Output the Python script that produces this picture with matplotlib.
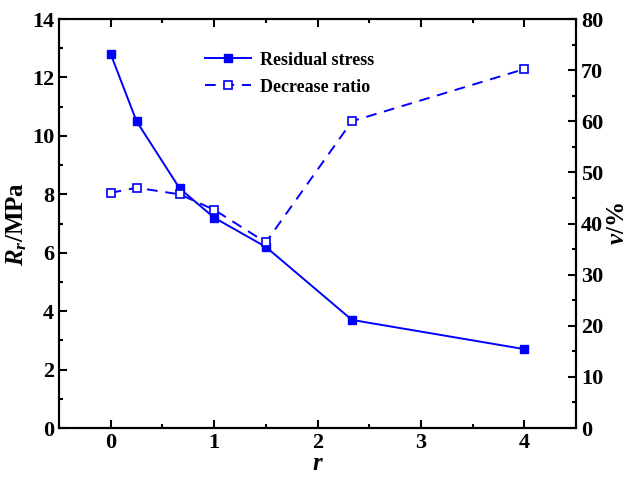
import numpy as np
import matplotlib.pyplot as plt
from matplotlib.ticker import MultipleLocator

# data
r = [0, 0.25, 0.667, 1, 1.5, 2.333, 4]
stress = [12.8, 10.5, 8.2, 7.2, 6.2, 3.7, 2.7]
ratio = [46.0, 47.0, 45.7, 42.7, 36.3, 60.0, 70.2]

plt.rcParams['font.family'] = 'Liberation Serif'
plt.rcParams['font.weight'] = 'bold'
plt.rcParams['mathtext.fontset'] = 'custom'
plt.rcParams['mathtext.it'] = 'Liberation Serif:italic:bold'
plt.rcParams['mathtext.rm'] = 'Liberation Serif:bold'

fig = plt.figure(figsize=(6.32, 4.78), dpi=100)
ax = fig.add_axes([59/632, 50/478, 517/632, 409/478])
ax2 = ax.twinx()

l1, = ax.plot(r, stress, '-s', color='#0000ff', lw=1.4, ms=6,
              label='Residual stress')
l2, = ax2.plot(r, ratio, '--s', color='#0000ff', lw=1.4, ms=6,
               mfc='white', mew=1.2, dashes=(5.5, 4), label='Decrease ratio')

ax.set_xlim(-0.5, 4.5)
ax.set_ylim(0, 14)
ax2.set_ylim(0, 80)
ax.xaxis.set_major_locator(MultipleLocator(1))
ax.xaxis.set_minor_locator(MultipleLocator(0.5))
ax.yaxis.set_major_locator(MultipleLocator(2))
ax.yaxis.set_minor_locator(MultipleLocator(1))
ax2.yaxis.set_major_locator(MultipleLocator(10))
ax2.yaxis.set_minor_locator(MultipleLocator(5))

for a in (ax, ax2):
    a.tick_params(which='both', direction='in', labelsize=16, width=1.5)
    a.tick_params(which='major', length=6)
    a.tick_params(which='minor', length=3)
    for sp in a.spines.values():
        sp.set_linewidth(1.5)
ax.tick_params(which='both', top=True)
for lab in ax.get_xticklabels() + ax.get_yticklabels() + ax2.get_yticklabels():
    lab.set_fontweight('bold')

ax.set_xlabel('$r$', fontsize=18, labelpad=0)
ax.set_ylabel('$R_r$/MPa', fontsize=18, labelpad=2, fontweight='bold')
ax2.set_ylabel('$v$/%', fontsize=18, labelpad=2, fontweight='bold')

leg = ax.legend([l1, l2], ['Residual stress', 'Decrease ratio'], loc='upper left',
                bbox_to_anchor=(0.25, 0.96), frameon=False,
                prop={'family': 'Liberation Serif', 'size': 13, 'weight': 'bold'},
                handlelength=2.6, handletextpad=0.5, labelspacing=0.55)

fig.savefig('out.png', dpi=100)
